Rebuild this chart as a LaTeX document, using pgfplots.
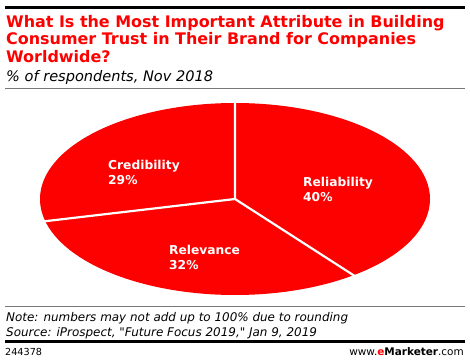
\documentclass[border=0pt]{standalone}
\usepackage{pgfplots}
\pgfplotsset{compat=1.18}
\usepackage{fontspec}
\setmainfont{DejaVu Sans}
\newfontfamily\srcfont{DejaVu Sans}
\definecolor{emred}{RGB}{253,0,0}
\definecolor{rulegray}{RGB}{120,120,120}
% slice values (percent)
\def\valRel{40}  % Reliability
\def\valRev{32}  % Relevance
\def\valCred{29} % Credibility
\begin{document}
\begin{tikzpicture}
\pgfmathsetmacro{\tot}{\valRel+\valRev+\valCred}
\pgfmathsetmacro{\aA}{90}
\pgfmathsetmacro{\aB}{90-360*\valRel/\tot}
\pgfmathsetmacro{\aC}{\aB-360*\valRev/\tot}
\pgfmathsetmacro{\aD}{\aC-360*\valCred/\tot}
\fill[white] (0bp,0bp) rectangle (470bp,-362bp);
% header
\fill[black] (5bp,-6bp) rectangle (465bp,-9bp);
\node[anchor=base west, inner sep=0pt, text=emred, font=\fontsize{16}{17.5}\selectfont\bfseries] at (6bp,-27bp) {What Is the Most Important Attribute in Building};
\node[anchor=base west, inner sep=0pt, text=emred, font=\fontsize{16}{17.5}\selectfont\bfseries] at (6bp,-44.5bp) {Consumer Trust in Their Brand for Companies};
\node[anchor=base west, inner sep=0pt, text=emred, font=\fontsize{16}{17.5}\selectfont\bfseries] at (6bp,-62bp) {Worldwide?};
\node[anchor=base west, inner sep=0pt, font=\fontsize{14.6}{16}\selectfont\itshape] at (6bp,-81bp) {\% of respondents, Nov 2018};
\draw[rulegray, line width=0.8bp] (5bp,-88bp) -- (465bp,-88bp);
% pie
\begin{axis}[at={(235bp,-199bp)}, anchor=origin, x=195bp, y=96bp,
  xmin=-1, xmax=1, ymin=-1, ymax=1, hide axis, clip=false]
\fill[emred] (axis cs:0,0) -- (axis cs:{cos(\aA)},{sin(\aA)}) arc[start angle=\aA, end angle=\aB, x radius=195bp, y radius=96bp] -- cycle;
\fill[emred] (axis cs:0,0) -- (axis cs:{cos(\aB)},{sin(\aB)}) arc[start angle=\aB, end angle=\aC, x radius=195bp, y radius=96bp] -- cycle;
\fill[emred] (axis cs:0,0) -- (axis cs:{cos(\aC)},{sin(\aC)}) arc[start angle=\aC, end angle=\aD, x radius=195bp, y radius=96bp] -- cycle;
\draw[white, line width=2.2bp] (axis cs:{cos(\aA)},{sin(\aA)}) -- (axis cs:0,0) -- (axis cs:{1.01*cos(\aB)},{1.01*sin(\aB)});
\draw[white, line width=2.2bp] (axis cs:0,0) -- (axis cs:{1.01*cos(\aC)},{1.01*sin(\aC)});
\end{axis}
\begin{scope}[every node/.style={anchor=base west, inner sep=0pt, text=white, font=\fontsize{12.3}{14}\selectfont\bfseries}]
\node at (108bp,-169bp) {Credibility};
\node at (108bp,-184bp) {29\%};
\node at (169bp,-254bp) {Relevance};
\node at (169bp,-269bp) {32\%};
\node at (303bp,-186bp) {Reliability};
\node at (303bp,-201bp) {40\%};
\end{scope}
% footer
\draw[rulegray, line width=0.8bp] (5bp,-306bp) -- (465bp,-306bp);
\node[anchor=base west, inner sep=0pt, font=\fontsize{12}{14}\selectfont\itshape] at (6bp,-321bp) {Note: numbers may not add up to 100\% due to rounding};
\node[anchor=base west, inner sep=0pt, font=\srcfont\fontsize{12}{14}\selectfont\itshape] at (6bp,-336bp) {Source: iProspect, "Future Focus 2019," Jan 9, 2019};
\fill[black] (5bp,-340bp) rectangle (465bp,-343bp);
\node[anchor=base west, inner sep=0pt, font=\fontsize{9.7}{11}\selectfont] at (5bp,-355bp) {244378};
\node[anchor=base east, inner sep=0pt, font=\fontsize{10.5}{12}\selectfont] at (464bp,-355bp) {www.\textbf{\textcolor{emred}{e}Marketer}.com};
\end{tikzpicture}
\end{document}
